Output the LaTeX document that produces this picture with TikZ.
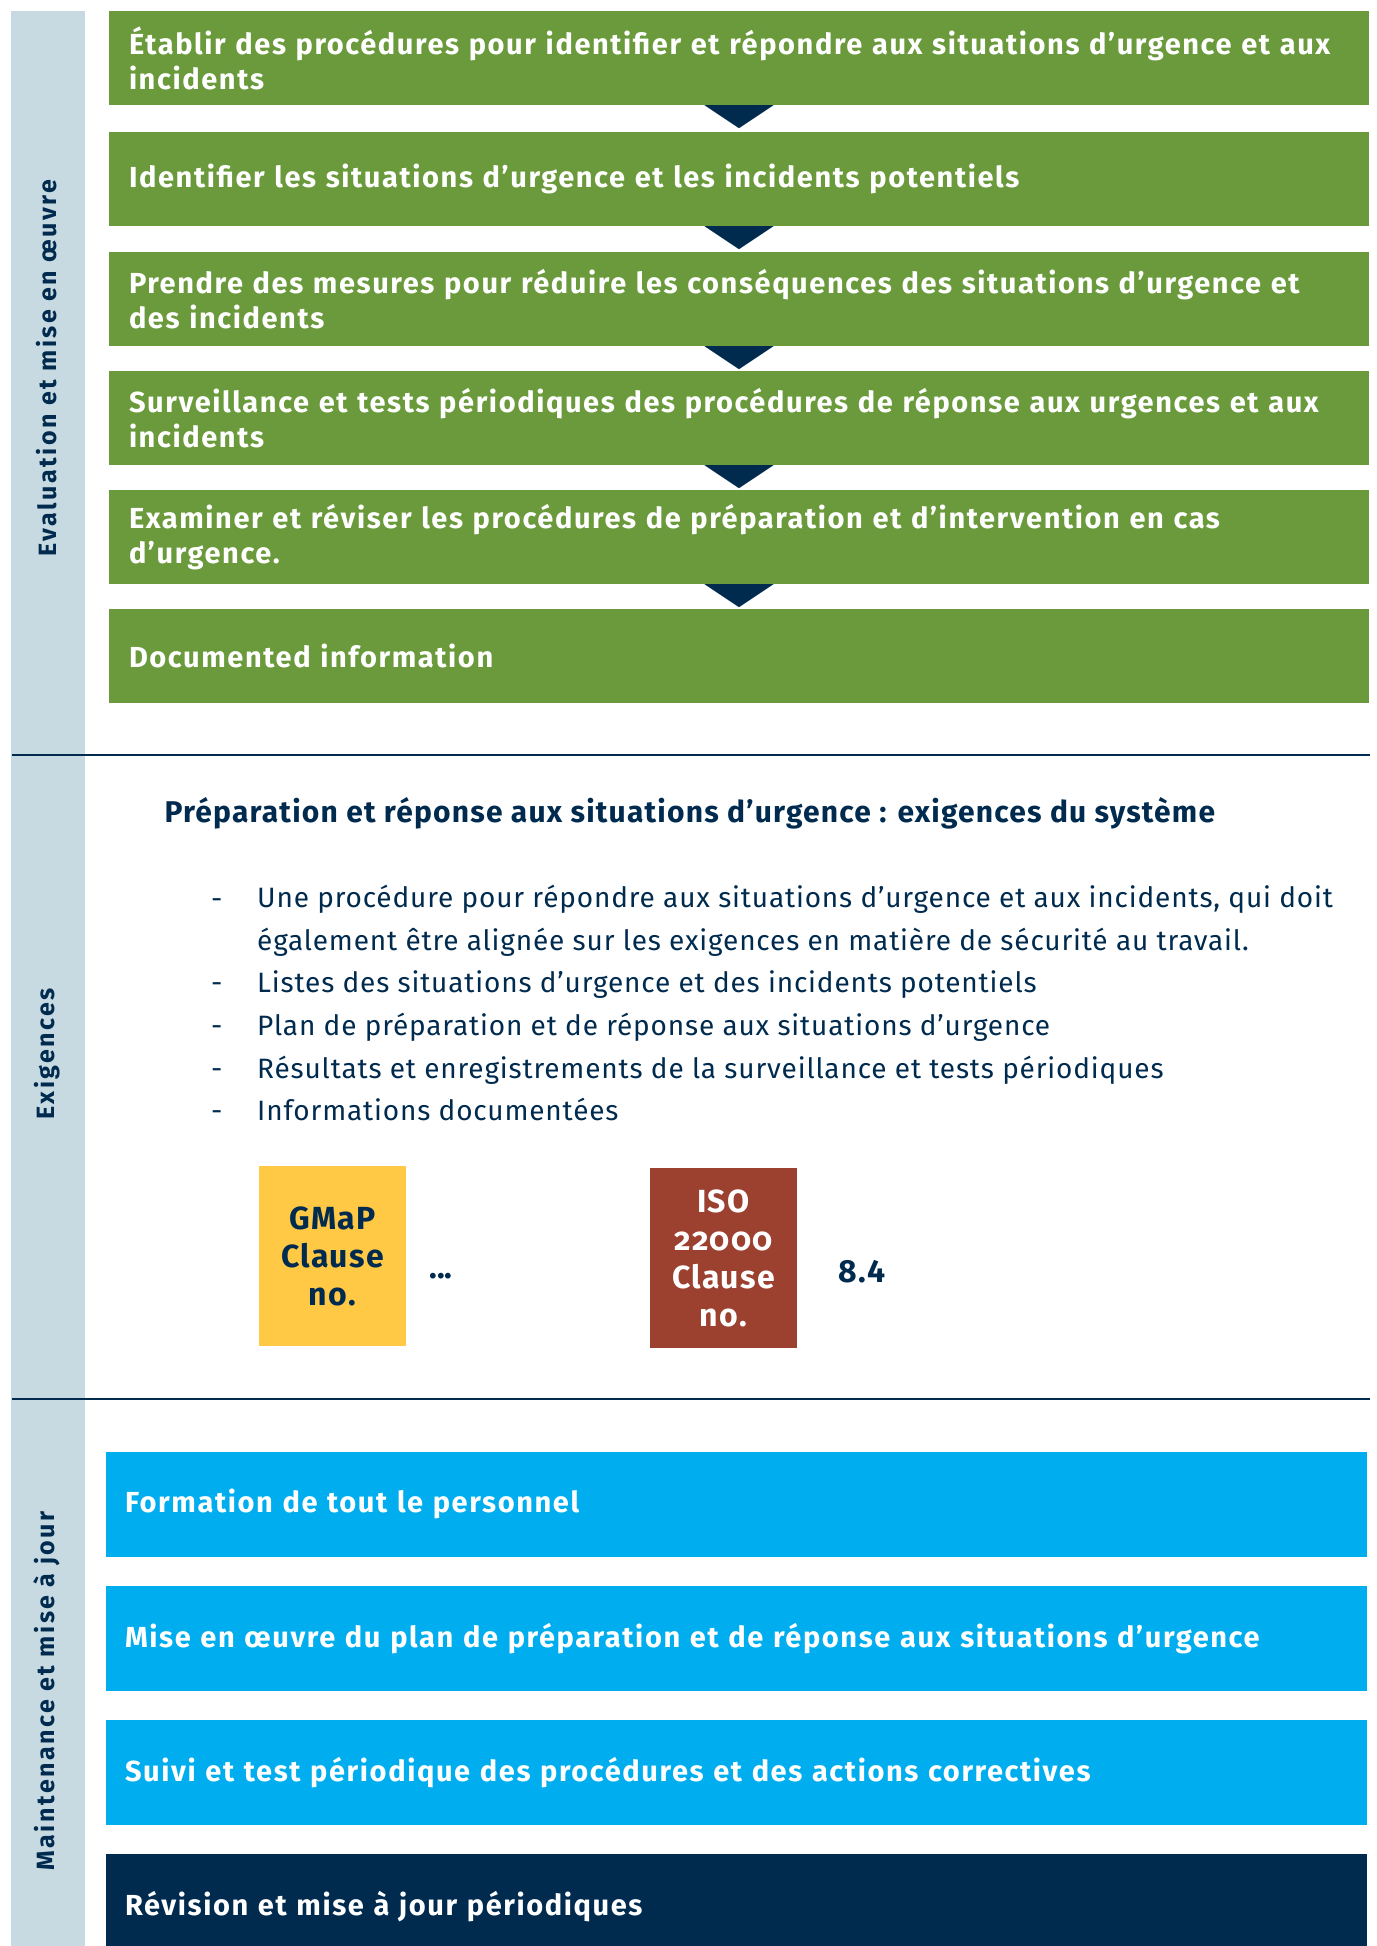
\documentclass[tikz,border=0pt]{standalone}
\usepackage{fontspec}
\setmainfont{Fira Sans}
\definecolor{leaf}{HTML}{6A9A3B}
\definecolor{navy}{HTML}{002B4F}
\definecolor{mist}{HTML}{C8DAE1}
\definecolor{sky}{HTML}{00AEEF}
\definecolor{sun}{HTML}{FFC845}
\definecolor{brick}{HTML}{9C4030}
\tikzset{
  stagebox/.style={fill=leaf, text=white, minimum width=1260pt, minimum height=94pt,
    text width=1220pt, inner xsep=20pt, align=left,
    font=\fontsize{29}{35}\selectfont\bfseries\addfontfeature{LetterSpace=5.5}},
  upkeepbox/.style={fill=sky, text=white, minimum width=1261pt, minimum height=105pt,
    text width=1223pt, inner xsep=19pt, align=left,
    font=\fontsize{29}{35}\selectfont\bfseries\addfontfeature{LetterSpace=5.5}},
  sidelabel/.style={rotate=90, text=navy,
    font=\fontsize{25}{30}\selectfont\bfseries\addfontfeature{LetterSpace=10}},
  itemtext/.style={anchor=base west, text=navy, align=left, inner sep=0pt,
    font=\fontsize{28}{42.5}\selectfont\addfontfeature{LetterSpace=3}},
  clausebox/.style={minimum width=147pt, minimum height=180pt, align=center,
    font=\fontsize{32}{38}\selectfont\bfseries\addfontfeature{LetterSpace=4}}
}
\begin{document}
\begin{tikzpicture}[x=1pt,y=-1pt]
  \useasboundingbox (0,0) rectangle (1376,1946);
  % side bar and section labels
  \fill[mist] (11,11) rectangle (85,1946);
  \node[sidelabel] (lab1) at (47,368) {Evaluation et mise en œuvre};
  \node[sidelabel] (lab2) at (47,1054) {Exigences};
  \node[sidelabel] (lab3) at (47,1691) {Maintenance et mise à jour};
  \draw[navy,line width=2.5pt] (12,755) -- (1370,755);
  \draw[navy,line width=2.5pt] (12,1399) -- (1370,1399);
  % evaluation steps
  \node[stagebox] (g1) at (739,58) {Établir des procédures pour identifier et répondre aux situations d’urgence et aux\\incidents};
  \node[stagebox] (g2) at (739,179) {Identifier les situations d’urgence et les incidents potentiels};
  \node[stagebox] (g3) at (739,299) {Prendre des mesures pour réduire les conséquences des situations d’urgence et\\des incidents};
  \node[stagebox] (g4) at (739,418) {Surveillance et tests périodiques des procédures de réponse aux urgences et aux\\incidents};
  \node[stagebox] (g5) at (739,537) {Examiner et réviser les procédures de préparation et d’intervention en cas\\d’urgence.};
  \node[stagebox] (g6) at (739,656) {Documented information};
  \fill[navy] (g1.south) ++(-34.5,0) -- ++(69,0) -- ++(-34.5,23) -- cycle;
  \fill[navy] (g2.south) ++(-34.5,0) -- ++(69,0) -- ++(-34.5,23) -- cycle;
  \fill[navy] (g3.south) ++(-34.5,0) -- ++(69,0) -- ++(-34.5,23) -- cycle;
  \fill[navy] (g4.south) ++(-34.5,0) -- ++(69,0) -- ++(-34.5,23) -- cycle;
  \fill[navy] (g5.south) ++(-34.5,0) -- ++(69,0) -- ++(-34.5,23) -- cycle;
  % requirements
  \node[anchor=west, text=navy, font=\fontsize{30}{34}\selectfont\bfseries\addfontfeature{LetterSpace=4}] (head) at (161,813)
    {Préparation et réponse aux situations d’urgence : exigences du système};
  \node[itemtext] (d1) at (211,908) {-};
  \node[itemtext] (b1) at (257,950) {Une procédure pour répondre aux situations d’urgence et aux incidents, qui doit\\également être alignée sur les exigences en matière de sécurité au travail.};
  \node[itemtext] (d2) at (211,992) {-};
  \node[itemtext] (b2) at (257,992) {Listes des situations d’urgence et des incidents potentiels};
  \node[itemtext] (d3) at (211,1035) {-};
  \node[itemtext] (b3) at (257,1035) {Plan de préparation et de réponse aux situations d’urgence};
  \node[itemtext] (d4) at (211,1078) {-};
  \node[itemtext] (b4) at (257,1078) {Résultats et enregistrements de la surveillance et tests périodiques};
  \node[itemtext] (d5) at (211,1120) {-};
  \node[itemtext] (b5) at (257,1120) {Informations documentées};
  \node[clausebox, fill=sun, text=navy] (gmap) at (332.5,1256) {GMaP\\Clause\\no.};
  \node[text=navy, font=\fontsize{32}{38}\selectfont\bfseries] (gmapno) at (441,1276) {...};
  \node[clausebox, fill=brick, text=white] (iso) at (723.5,1258) {ISO\\{\addfontfeature{Numbers=OldStyle}22000}\\Clause\\no.};
  \node[text=navy, font=\fontsize{32}{38}\selectfont\bfseries\addfontfeature{LetterSpace=4}] (isono) at (862,1272) {8.4};
  % maintenance steps
  \node[upkeepbox] (m1) at (736.5,1504) {Formation de tout le personnel};
  \node[upkeepbox] (m2) at (736.5,1638.5) {Mise en œuvre du plan de préparation et de réponse aux situations d’urgence};
  \node[upkeepbox] (m3) at (736.5,1772.5) {Suivi et test périodique des procédures et des actions correctives};
  \node[upkeepbox, fill=navy] (m4) at (736.5,1906.5) {Révision et mise à jour périodiques};
\end{tikzpicture}
\end{document}
